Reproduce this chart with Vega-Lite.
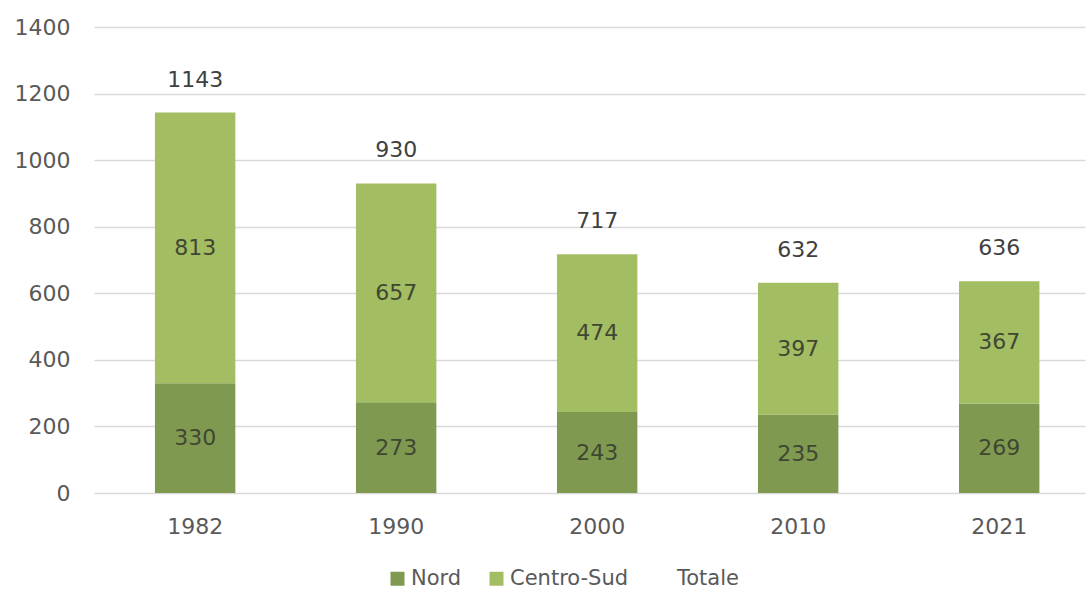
{
  "$schema": "https://vega.github.io/schema/vega-lite/v6.json",
  "autosize": "none",
  "width": 991,
  "height": 466,
  "padding": {"left": 94, "top": 27, "right": 1, "bottom": 96},
  "background": "white",
  "config": {
    "view": {"stroke": null},
    "font": "DejaVu Sans",
    "axis": {"labelFont": "DejaVu Sans", "labelFontSize": 22, "labelColor": "#595959", "ticks": false, "domain": false, "title": null},
    "legend": {"labelFont": "DejaVu Sans", "labelFontSize": 21, "labelColor": "#595959"}
  },
  "datasets": {
    "parts": [
      {"year": "1982", "region": "Nord", "value": 330},
      {"year": "1982", "region": "Centro-Sud", "value": 813},
      {"year": "1990", "region": "Nord", "value": 273},
      {"year": "1990", "region": "Centro-Sud", "value": 657},
      {"year": "2000", "region": "Nord", "value": 243},
      {"year": "2000", "region": "Centro-Sud", "value": 474},
      {"year": "2010", "region": "Nord", "value": 235},
      {"year": "2010", "region": "Centro-Sud", "value": 397},
      {"year": "2021", "region": "Nord", "value": 269},
      {"year": "2021", "region": "Centro-Sud", "value": 367}
    ],
    "totals": [
      {"year": "1982", "total": 1143},
      {"year": "1990", "total": 930},
      {"year": "2000", "total": 717},
      {"year": "2010", "total": 632},
      {"year": "2021", "total": 636}
    ]
  },
  "layer": [
    {
      "data": {"name": "parts"},
      "mark": {"type": "bar"},
      "encoding": {
        "x": {"field": "year", "type": "nominal", "sort": null,
              "scale": {"paddingInner": 0.6, "paddingOuter": 0.265, "align": 0.572},
              "axis": {"labelAngle": 0, "labelPadding": 23, "grid": false}},
        "y": {"field": "value", "type": "quantitative", "stack": "zero",
              "scale": {"domain": [0, 1400], "nice": false},
              "axis": {"values": [0, 200, 400, 600, 800, 1000, 1200, 1400], "format": "d", "labelPadding": 24, "grid": true, "gridColor": "#d9d9d9", "gridWidth": 1.3}},
        "color": {"field": "region", "type": "nominal",
                  "scale": {"domain": ["Nord", "Centro-Sud", "Totale"], "range": ["#7F9A50", "#A3BD62", "transparent"]},
                  "legend": {"title": null, "orient": "none", "direction": "horizontal", "legendX": 293, "legendY": 541,
                             "symbolType": "square", "symbolSize": 196, "symbolStrokeWidth": 0, "labelOffset": 3, "columnPadding": 24, "padding": 0}},
        "order": {"field": "region", "sort": "descending"}
      }
    },
    {
      "data": {"name": "parts"},
      "transform": [
        {"stack": "value", "groupby": ["year"], "sort": [{"field": "region", "order": "descending"}], "as": ["y0", "y1"]},
        {"calculate": "(datum.y0 + datum.y1) / 2", "as": "mid"}
      ],
      "mark": {"type": "text", "fontSize": 22, "color": "#3F4733", "baseline": "middle"},
      "encoding": {
        "x": {"field": "year", "type": "nominal", "sort": null},
        "y": {"field": "mid", "type": "quantitative"},
        "text": {"field": "value", "type": "quantitative"}
      }
    },
    {
      "data": {"name": "totals"},
      "mark": {"type": "text", "fontSize": 22, "color": "#404040", "baseline": "middle", "dy": -33},
      "encoding": {
        "x": {"field": "year", "type": "nominal", "sort": null},
        "y": {"field": "total", "type": "quantitative"},
        "text": {"field": "total", "type": "quantitative"}
      }
    }
  ]
}
